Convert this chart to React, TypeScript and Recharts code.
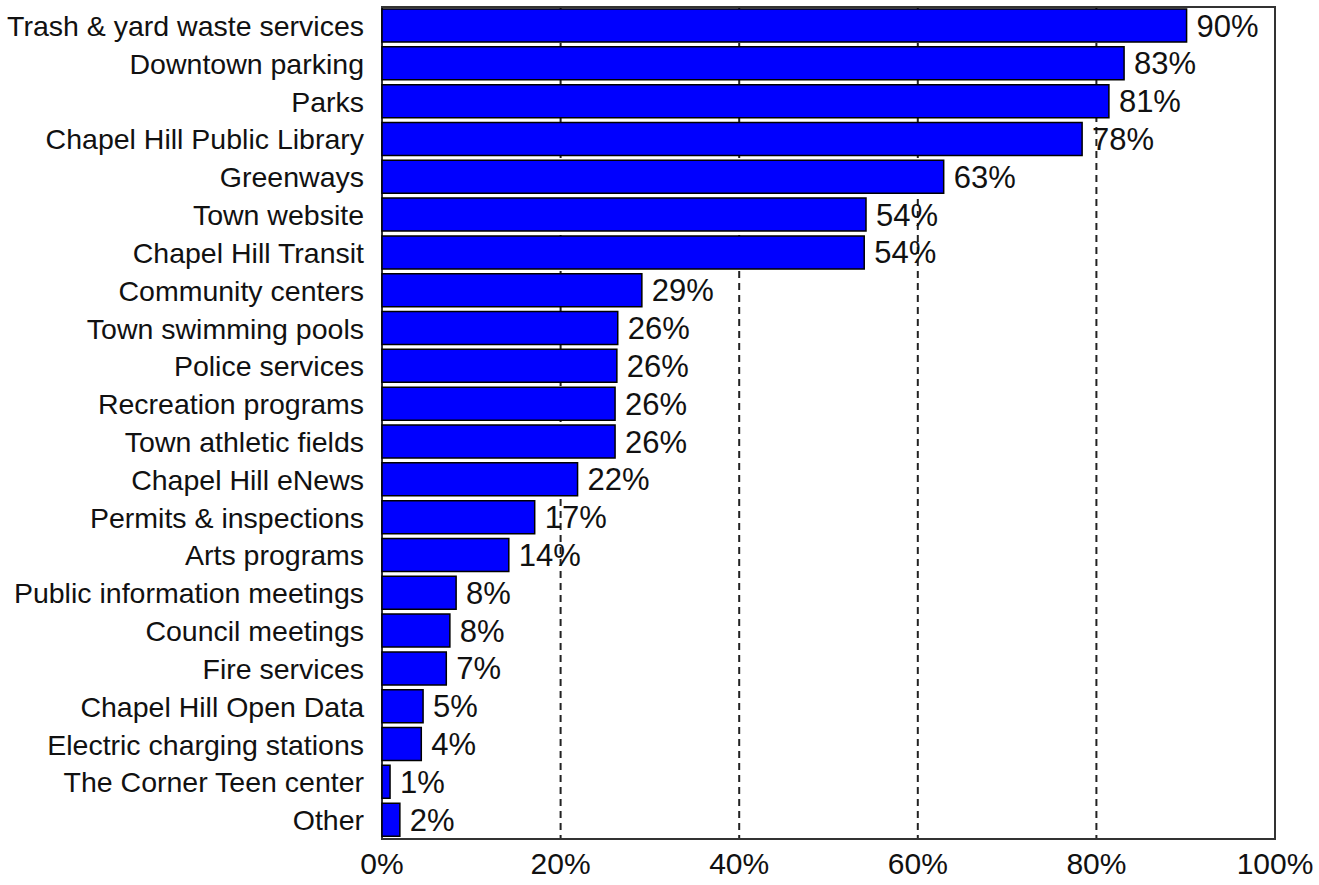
import { Bar, BarChart, CartesianGrid, LabelList, ReferenceArea, XAxis, YAxis } from "recharts";

const services = [
  "Trash & yard waste services",
  "Downtown parking",
  "Parks",
  "Chapel Hill Public Library",
  "Greenways",
  "Town website",
  "Chapel Hill Transit",
  "Community centers",
  "Town swimming pools",
  "Police services",
  "Recreation programs",
  "Town athletic fields",
  "Chapel Hill eNews",
  "Permits & inspections",
  "Arts programs",
  "Public information meetings",
  "Council meetings",
  "Fire services",
  "Chapel Hill Open Data",
  "Electric charging stations",
  "The Corner Teen center",
  "Other",
];

const shares = [
  90.1, 83.1, 81.4, 78.4, 62.9, 54.2, 54.0, 29.1, 26.4, 26.3, 26.1,
  26.1, 21.9, 17.1, 14.2, 8.3, 7.6, 7.2, 4.6, 4.4, 0.9, 2.0,
];

const xTicks = [0, 20, 40, 60, 80, 100];

const FONT = "'Liberation Sans', Arial, sans-serif";

export default function App() {
  const rows = services.map((name, i) => ({ name, share: shares[i] }));
  return (
    <div style={{ position: "absolute", left: 0, top: 0, fontFamily: FONT }}>
      <BarChart
        width={1319}
        height={885}
        layout="vertical"
        data={rows}
        margin={{ top: 7, right: 44, bottom: 0, left: 0 }}
      >
        <CartesianGrid horizontal={false} stroke="#222" strokeWidth={2} strokeDasharray="7 5" />
        <XAxis
          type="number"
          domain={[0, 100]}
          ticks={xTicks}
          tickFormatter={(v) => `${v}%`}
          tick={{ fontSize: 30, fill: "#111", fontFamily: FONT }}
          tickLine={false}
          tickSize={0}
          tickMargin={14}
          axisLine={false}
          height={46}
          interval={0}
        />
        <YAxis
          type="category"
          dataKey="name"
          width={382}
          tick={{ fontSize: 28.5, fill: "#111", fontFamily: FONT }}
          tickLine={false}
          tickSize={0}
          tickMargin={18}
          axisLine={false}
          interval={0}
        />
        <Bar dataKey="share" fill="#0000ff" stroke="#000" strokeWidth={1.5} barSize={33} isAnimationActive={false}>
          <LabelList
            dataKey="share"
            position="right"
            offset={10}
            formatter={(v: number) => `${Math.round(v)}%`}
            style={{ fontSize: 31, fill: "#111", fontFamily: FONT }}
          />
        </Bar>
        <ReferenceArea x1={0} x2={100} fill="none" stroke="#333" strokeWidth={2} ifOverflow="visible" />
      </BarChart>
    </div>
  );
}
